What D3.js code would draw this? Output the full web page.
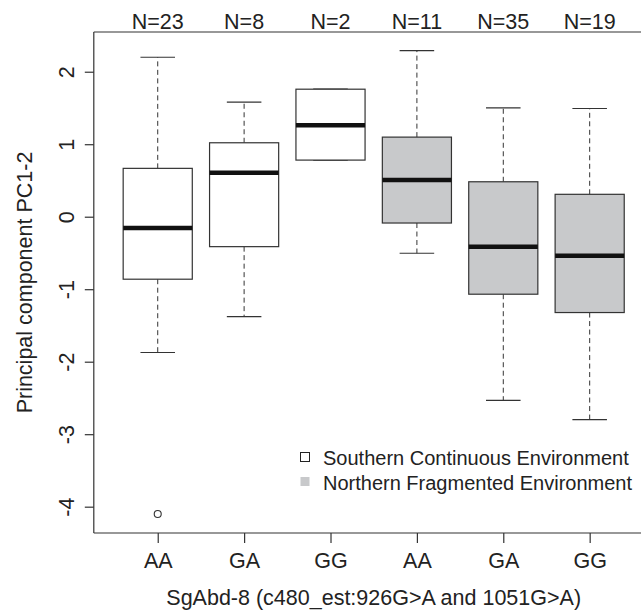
<!DOCTYPE html>
<html>
<head>
<meta charset="utf-8">
<script src="https://cdn.jsdelivr.net/npm/d3@7"></script>
<style>
  html, body { margin: 0; padding: 0; background: #fff; }
  text { font-family: "Liberation Sans", Arial, sans-serif; fill: #222; }
</style>
</head>
<body>
<svg id="chart" width="641" height="613"></svg>
<script>
// ---- data ----
const categories  = ["AA", "GA", "GG", "AA", "GA", "GG"];
const environment = ["south", "south", "south", "north", "north", "north"];
const counts      = [23, 8, 2, 11, 35, 19];
const whiskerLow  = [-1.873, -1.377, 0.781, -0.504, -2.534, -2.800];
const q1          = [-0.862, -0.413, 0.781, -0.087, -1.069, -1.322];
const medians     = [-0.156, 0.606, 1.263, 0.506, -0.413, -0.537];
const q3          = [0.667, 1.020, 1.759, 1.098, 0.482, 0.309];
const whiskerHigh = [2.200, 1.580, 1.759, 2.290, 1.500, 1.493];
const outlierGroup = [0];
const outlierValue = [-4.10];
const yTicks = [-4, -3, -2, -1, 0, 1, 2];
const legendLabels = ["Southern Continuous Environment", "Northern Fragmented Environment"];
const envKeys = ["south", "north"];

(function () {
// ---- layout ----
const svg = d3.select("#chart");
const W = 641, H = 613;
const pL = 93.8, pR = 653.6, pT = 32, pB = 533;
const x = d3.scaleLinear().domain([0.26, 6.74]).range([pL, pR]);
const y = d3.scaleLinear().domain([-4.363, 2.548]).range([pB, pT]);
const fill = d3.scaleOrdinal().domain(envKeys).range(["#ffffff", "#c8c9cb"]);
const lineCol = "#333";
const fs = 21.5;
const fsLeg = 20;

const idx = d3.range(categories.length);

// frame
svg.append("line").attr("x1", pL).attr("x2", W).attr("y1", pT).attr("y2", pT)
  .attr("stroke", lineCol).attr("stroke-width", 1.2);
svg.append("line").attr("x1", pL).attr("x2", W).attr("y1", pB).attr("y2", pB)
  .attr("stroke", lineCol).attr("stroke-width", 1.2);
svg.append("line").attr("x1", pL).attr("x2", pL).attr("y1", pT).attr("y2", pB)
  .attr("stroke", lineCol).attr("stroke-width", 1.2);

// y axis
const yAxis = svg.append("g").attr("transform", `translate(${pL},0)`)
  .call(d3.axisLeft(y).tickValues(yTicks).tickSize(9).tickFormat(d => String(d)));
yAxis.select(".domain").remove();
yAxis.selectAll("line").attr("stroke", lineCol).attr("stroke-width", 1.2);
yAxis.selectAll("text")
  .attr("font-size", fs)
  .attr("font-family", "Liberation Sans, Arial, sans-serif")
  .attr("fill", "#222")
  .attr("text-anchor", "middle")
  .attr("x", null)
  .attr("dy", null)
  .attr("dominant-baseline", "central")
  .attr("transform", "translate(-27,0) rotate(-90)");

// x axis
const xAxis = svg.append("g").attr("transform", `translate(0,${pB})`)
  .call(d3.axisBottom(x).tickValues(idx.map(i => i + 1)).tickSize(10).tickPadding(9.5)
    .tickFormat((d) => categories[d - 1]));
xAxis.select(".domain").remove();
xAxis.selectAll("line").attr("stroke", lineCol).attr("stroke-width", 1.2);
xAxis.selectAll("text").attr("font-size", fs)
  .attr("font-family", "Liberation Sans, Arial, sans-serif").attr("fill", "#222");

// N labels on top
svg.append("g").selectAll("text").data(idx).join("text")
  .attr("x", i => x(i + 1)).attr("y", 28.5)
  .attr("text-anchor", "middle").attr("font-size", fs)
  .text(i => "N=" + counts[i]);

// boxes
const g = svg.append("g");
const boxHalf = 0.4, capHalf = 0.2;
idx.forEach(i => {
  const cx = x(i + 1);
  const bl = x(i + 1 - boxHalf), br = x(i + 1 + boxHalf);
  const cl = x(i + 1 - capHalf), cr = x(i + 1 + capHalf);
  g.append("line").attr("x1", cx).attr("x2", cx).attr("y1", y(q3[i])).attr("y2", y(whiskerHigh[i]))
    .attr("stroke", lineCol).attr("stroke-width", 1).attr("stroke-dasharray", "5,3.5");
  g.append("line").attr("x1", cx).attr("x2", cx).attr("y1", y(q1[i])).attr("y2", y(whiskerLow[i]))
    .attr("stroke", lineCol).attr("stroke-width", 1).attr("stroke-dasharray", "5,3.5");
  g.append("line").attr("x1", cl).attr("x2", cr).attr("y1", y(whiskerHigh[i])).attr("y2", y(whiskerHigh[i]))
    .attr("stroke", lineCol).attr("stroke-width", 1.2);
  g.append("line").attr("x1", cl).attr("x2", cr).attr("y1", y(whiskerLow[i])).attr("y2", y(whiskerLow[i]))
    .attr("stroke", lineCol).attr("stroke-width", 1.2);
  g.append("rect").attr("x", bl).attr("width", br - bl)
    .attr("y", y(q3[i])).attr("height", y(q1[i]) - y(q3[i]))
    .attr("fill", fill(environment[i])).attr("stroke", lineCol).attr("stroke-width", 1.2);
  g.append("line").attr("x1", bl).attr("x2", br).attr("y1", y(medians[i])).attr("y2", y(medians[i]))
    .attr("stroke", "#111").attr("stroke-width", 4.5);
});

// outliers
svg.append("g").selectAll("circle").data(outlierGroup.map((gi, k) => ({gi, v: outlierValue[k]})))
  .join("circle")
  .attr("cx", d => x(d.gi + 1)).attr("cy", d => y(d.v)).attr("r", 3.5)
  .attr("fill", "none").attr("stroke", lineCol).attr("stroke-width", 1.1);

// legend
const lg = svg.append("g");
legendLabels.forEach((lab, k) => {
  const cy = 457 + k * 24.5;
  lg.append("rect").attr("x", 300.5).attr("y", cy - 4.5).attr("width", 9).attr("height", 9)
    .attr("fill", fill(envKeys[k]))
    .attr("stroke", k === 0 ? "#222" : "none").attr("stroke-width", 1);
  lg.append("text").attr("x", 323).attr("y", cy + 8).attr("font-size", fsLeg).text(lab);
});

// axis titles
svg.append("text").attr("x", (pL + pR) / 2).attr("y", 605)
  .attr("text-anchor", "middle").attr("font-size", fs)
  .text("SgAbd-8 (c480_est:926G>A and 1051G>A)");
svg.append("text")
  .attr("transform", `translate(32,${(pT + pB) / 2}) rotate(-90)`)
  .attr("text-anchor", "middle").attr("font-size", fs)
  .text("Principal component PC1-2");
})();
</script>
</body>
</html>
